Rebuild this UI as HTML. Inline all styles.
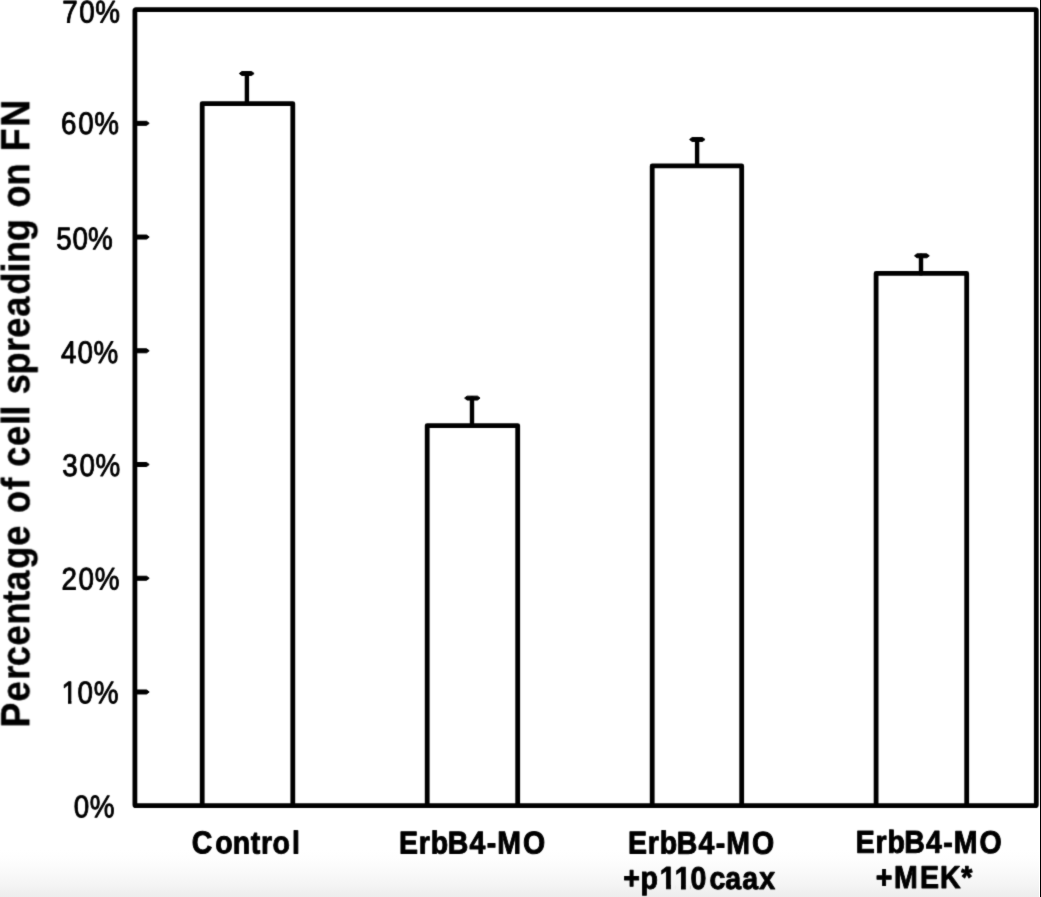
<!DOCTYPE html>
<html lang="en">
<head>
<meta charset="utf-8">
<title>Percentage of cell spreading on FN</title>
<style>
html,body{margin:0;padding:0;background:#fff;}
body{width:1041px;height:897px;overflow:hidden;position:relative;}
svg{display:block;position:absolute;left:0;top:0;}
text{font-family:"Liberation Sans",Arial,Helvetica,sans-serif;fill:#000;stroke:#000;stroke-linejoin:round;font-kerning:none;text-rendering:geometricPrecision;}
.ln{fill:none;stroke:#000;stroke-linejoin:round;stroke-linecap:round;}
</style>
</head>
<body>
<svg width="1041" height="897" viewBox="0 0 1041 897">
<defs>
<linearGradient id="fade" x1="0" y1="0" x2="0" y2="1">
<stop offset="0" stop-color="#ffffff"/>
<stop offset="0.25" stop-color="#fdfdfd"/>
<stop offset="0.5" stop-color="#f9f9f9"/>
<stop offset="0.75" stop-color="#f4f4f4"/>
<stop offset="1" stop-color="#ededed"/>
</linearGradient>
<filter id="soft" filterUnits="userSpaceOnUse" x="0" y="0" width="1041" height="897" color-interpolation-filters="sRGB"><feConvolveMatrix order="3" kernelMatrix="1 6 1 6 36 6 1 6 1" divisor="64" edgeMode="duplicate" preserveAlpha="false"/></filter>
<clipPath id="nofoot1" clipPathUnits="userSpaceOnUse"><path clip-rule="evenodd" d="M-20 -60 H400 V30 H-20 Z M0.90 -3.18 H7.02 V3 H0.90 Z M10.68 -3.18 H16.50 V3 H10.68 Z"/></clipPath>
<clipPath id="nofoot2" clipPathUnits="userSpaceOnUse"><path clip-rule="evenodd" d="M-20 -60 H400 V30 H-20 Z M39.52 -3.95 H45.17 V3 H39.52 Z M50.22 -3.95 H55.12 V3 H50.22 Z M55.20 -3.95 H60.85 V3 H55.20 Z M65.90 -3.95 H70.80 V3 H65.90 Z"/></clipPath>
</defs>
<rect x="0" y="0" width="1041" height="897" fill="#ffffff"/>
<rect x="0" y="850" width="1039" height="47" fill="url(#fade)"/>
<rect x="1040" y="0" width="1" height="897" fill="#000000"/>
<g filter="url(#soft)">
<g class="ln" stroke-width="4.8">
<rect x="134.9" y="9.6" width="901.40" height="796.10" rx="1" ry="1"/>
<path d="M202.2 805.7 V103.6 H292.8 V805.7"/>
<path d="M427.2 805.7 V425.6 H517.7 V805.7"/>
<path d="M652.2 805.7 V165.9 H741.7 V805.7"/>
<path d="M876.1 805.7 V273.4 H966.7 V805.7"/>
</g>
<g fill="#000" stroke="#000" stroke-width="1" stroke-linejoin="round">
<path d="M134.9 121.33 H146.6 L149.2 123.33 L146.6 125.33 H134.9 Z"/>
<path d="M134.9 235.06 H146.6 L149.2 237.06 L146.6 239.06 H134.9 Z"/>
<path d="M134.9 348.79 H146.6 L149.2 350.79 L146.6 352.79 H134.9 Z"/>
<path d="M134.9 462.51 H146.6 L149.2 464.51 L146.6 466.51 H134.9 Z"/>
<path d="M134.9 576.24 H146.6 L149.2 578.24 L146.6 580.24 H134.9 Z"/>
<path d="M134.9 689.97 H146.6 L149.2 691.97 L146.6 693.97 H134.9 Z"/>
<path d="M239.30 73.5 L241.80 71.55 H251.60 L254.10 73.5 L251.60 75.45 H241.80 Z"/>
<path d="M464.60 398.1 L467.10 396.15 H477.50 L480.00 398.1 L477.50 400.05 H467.10 Z"/>
<path d="M689.60 139.5 L692.10 137.55 H702.50 L705.00 139.5 L702.50 141.45 H692.10 Z"/>
<path d="M914.50 255.8 L917.00 253.85 H926.80 L929.30 255.8 L926.80 257.75 H917.00 Z"/>
</g>
<g class="ln" stroke-width="4.4">
<path d="M246.9 103.6 V73.5"/>
<path d="M472.0 425.6 V398.1"/>
<path d="M697.1 165.9 V139.5"/>
<path d="M921.0 273.4 V255.8"/>
</g>
<g>
<text transform="translate(62.26 22.41) matrix(1 0.001 0 1 0 0) scale(0.9267 1.0433)" x="0.00 18.37 35.65" font-weight="normal" font-size="30" stroke-width="0.863">70%</text>
<text transform="translate(61.03 134.03) matrix(1 0.001 0 1 0 0) scale(0.9267 1.0433)" x="0.00 18.56 35.97" font-weight="normal" font-size="30" stroke-width="0.863">60%</text>
<text transform="translate(56.33 249.18) matrix(1 0.001 0 1 0 0) scale(0.9267 1.0433)" x="0.00 17.38 34.25" font-weight="normal" font-size="30" stroke-width="0.863">50%</text>
<text transform="translate(60.95 362.98) matrix(1 0.001 0 1 0 0) scale(0.9267 1.0433)" x="0.00 17.95 35.22" font-weight="normal" font-size="30" stroke-width="0.863">40%</text>
<text transform="translate(62.33 476.03) matrix(1 0.001 0 1 0 0) scale(0.9267 1.0433)" x="0.00 18.52 35.89" font-weight="normal" font-size="30" stroke-width="0.863">30%</text>
<text transform="translate(61.51 589.48) matrix(1 0.001 0 1 0 0) scale(0.9267 1.0433)" x="0.00 18.26 35.74" font-weight="normal" font-size="30" stroke-width="0.863">20%</text>
<text transform="translate(61.53 703.23) matrix(1 0.001 0 1 0 0) scale(0.9267 1.0433)" x="0.00 17.11 34.71" font-weight="normal" font-size="30" stroke-width="0.863" clip-path="url(#nofoot1)">10%</text>
<text transform="translate(73.63 817.24) matrix(1 0.001 0 1 0 0) scale(0.9267 1.0433)" x="0.00 17.45" font-weight="normal" font-size="30" stroke-width="0.863">0%</text>
<text transform="translate(191.80 853.35) matrix(1 0.001 0 1 0 0) scale(0.9500 1.0533)" x="0.00 24.69 43.17 62.11 72.93 85.01 105.53" font-weight="bold" font-size="30" stroke-width="0.899">Control</text>
<text transform="translate(399.07 853.44) matrix(1 0.001 0 1 0 0) scale(0.9500 1.0533)" x="0.00 20.80 33.48 51.25 74.11 92.29 103.27 130.33" font-weight="bold" font-size="30" stroke-width="0.899">ErbB4-MO</text>
<text transform="translate(628.07 853.59) matrix(1 0.001 0 1 0 0) scale(0.9500 1.0533)" x="0.00 20.80 33.48 51.25 74.11 92.29 103.27 130.33" font-weight="bold" font-size="30" stroke-width="0.899">ErbB4-MO</text>
<text transform="translate(623.19 888.83) matrix(1 0.001 0 1 0 0) scale(0.9500 1.0533)" x="0.00 18.30 38.62 54.30 70.82 90.88 107.53 125.32 143.18" font-weight="bold" font-size="30" stroke-width="0.899" clip-path="url(#nofoot2)">+p110caax</text>
<text transform="translate(855.67 852.79) matrix(1 0.001 0 1 0 0) scale(0.9500 1.0533)" x="0.00 20.80 33.48 51.25 74.11 92.29 103.27 130.33" font-weight="bold" font-size="30" stroke-width="0.899">ErbB4-MO</text>
<text transform="translate(875.74 888.01) matrix(1 0.001 0 1 0 0) scale(0.9500 1.0533)" x="0.00 19.25 46.66 67.57 90.11" font-weight="bold" font-size="30" stroke-width="0.899">+MEK*</text>
<text transform="translate(29.40 727.56) rotate(-90) scale(1.2100 1.3133)" x="0.00 21.56 39.53 50.64 67.88 85.22 103.23 113.13 131.18 150.20 166.88 177.21 196.50 206.49 215.56 232.68 250.03 257.93 266.26 275.39 291.70 310.31 322.06 339.46 357.91 375.98 383.86 401.84 420.16 429.78 448.03 466.36 476.38 496.43" font-weight="bold" font-size="30" stroke-width="0.317"><tspan font-size="30.96">P</tspan>ercentage of cell spreading on <tspan font-size="30.96">FN</tspan></text>
</g>
</g>
</svg>
</body>
</html>
